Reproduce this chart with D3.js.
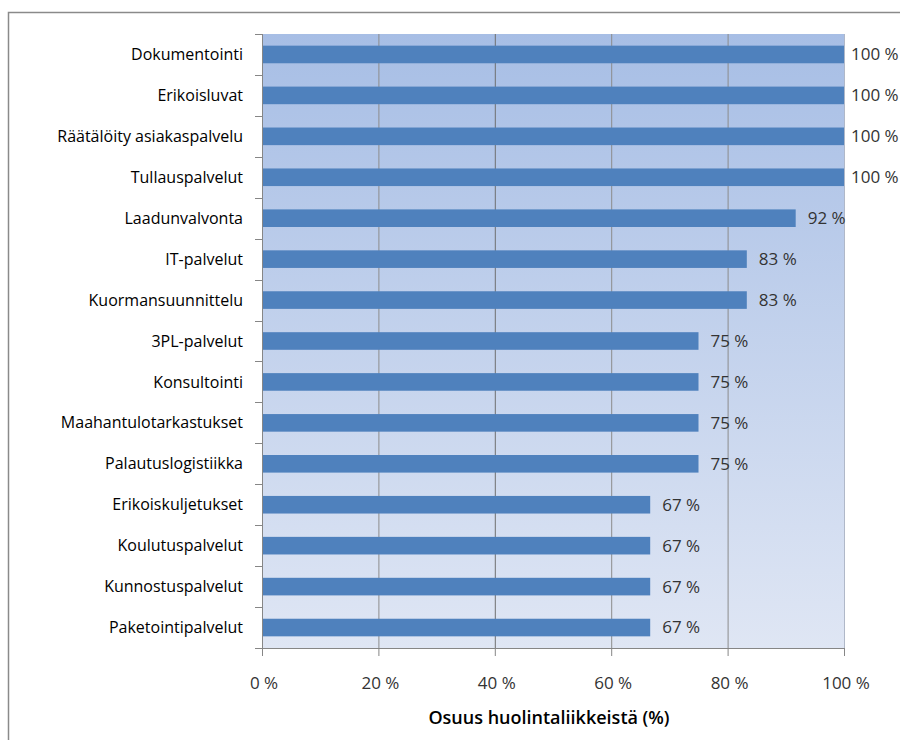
<!DOCTYPE html>
<html><head><meta charset="utf-8">
<script src="https://cdn.jsdelivr.net/npm/d3@7"></script>
<style>body{margin:0;background:#fff}svg{display:block}</style>
</head><body>
<script>
const categories = ["Dokumentointi","Erikoisluvat","Räätälöity asiakaspalvelu","Tullauspalvelut","Laadunvalvonta","IT-palvelut","Kuormansuunnittelu","3PL-palvelut","Konsultointi","Maahantulotarkastukset","Palautuslogistiikka","Erikoiskuljetukset","Koulutuspalvelut","Kunnostuspalvelut","Paketointipalvelut"];
const values = [100,100,100,100,91.7,83.3,83.3,75,75,75,75,66.7,66.7,66.7,66.7];
const xTicks = [0,20,40,60,80,100];
const axisTitle = "Osuus huolintaliikkeistä (%)";

const W=900,H=740;
const m={left:262,right:56,top:34,bottom:92};
const svg=d3.select("body").append("svg").attr("width",W).attr("height",H);
const font="'Open Sans', sans-serif";

// outer frame
svg.append("rect").attr("x",8.5).attr("y",12.5).attr("width",W+10).attr("height",H+10)
  .attr("fill","#fff").attr("stroke","#8a8a8a").attr("stroke-width",1.5);

const x=d3.scaleLinear().domain([0,100]).range([m.left,W-m.right]);
const y=d3.scaleBand().domain(categories).range([m.top,H-m.bottom]).paddingInner(0.57).paddingOuter(0.285);
const yb=d3.scaleBand().domain(categories).range([m.top,H-m.bottom]);

const defs=svg.append("defs");
const g=defs.append("linearGradient").attr("id","bg").attr("x1",0).attr("y1",0).attr("x2",0).attr("y2",1);
g.append("stop").attr("offset","0%").attr("stop-color","#a7bee5");
g.append("stop").attr("offset","100%").attr("stop-color","#dfe6f4");

svg.append("rect").attr("x",x(0)).attr("y",m.top).attr("width",x(100)-x(0)).attr("height",H-m.bottom-m.top).attr("fill","url(#bg)");

// gridlines
svg.append("g").selectAll("line").data(xTicks.filter(d=>d>0&&d<100)).join("line")
  .attr("x1",d=>x(d)+0.5).attr("x2",d=>x(d)+0.5).attr("y1",m.top).attr("y2",H-m.bottom)
  .attr("stroke",d=>d===40?"#6e6e6e":"#8c8c8c").attr("stroke-width",1);
// right edge
svg.append("line").attr("x1",x(100)+0.5).attr("x2",x(100)+0.5).attr("y1",m.top).attr("y2",H-m.bottom).attr("stroke","#b0b8c8");

// bars
svg.append("g").selectAll("rect").data(categories).join("rect")
  .attr("x",x(0)).attr("y",d=>y(d)).attr("height",y.bandwidth())
  .attr("width",(d,i)=>x(values[i])-x(0)).attr("fill","#4f81bd");

// y axis
const ya=svg.append("g");
ya.append("line").attr("x1",x(0)+0.5).attr("x2",x(0)+0.5).attr("y1",m.top).attr("y2",H-m.bottom+8).attr("stroke","#868686");
const bounds=categories.map(c=>yb(c)).concat([H-m.bottom]);
ya.selectAll(".t").data(bounds).join("line").attr("class","t")
  .attr("x1",x(0)-7).attr("x2",x(0)).attr("y1",d=>Math.round(d)+0.5).attr("y2",d=>Math.round(d)+0.5).attr("stroke","#868686");
ya.selectAll("text").data(categories).join("text")
  .attr("x",x(0)-19).attr("y",d=>y(d)+y.bandwidth()/2).attr("dy","0.35em")
  .attr("text-anchor","end").attr("font-family",font).attr("font-size",16).attr("font-weight",500).attr("fill","#000").text(d=>d);

// x axis
const xa=svg.append("g");
xa.append("line").attr("x1",x(0)-7).attr("x2",x(100)).attr("y1",H-m.bottom+0.5).attr("y2",H-m.bottom+0.5).attr("stroke","#868686");
xa.selectAll(".t").data(xTicks).join("line").attr("class","t")
  .attr("x1",d=>x(d)+0.5).attr("x2",d=>x(d)+0.5).attr("y1",H-m.bottom).attr("y2",H-m.bottom+8).attr("stroke","#868686");
xa.selectAll("text").data(xTicks).join("text")
  .attr("x",d=>x(d)+2).attr("y",H-m.bottom+35).attr("dy","0.35em").attr("text-anchor","middle")
  .attr("font-family",font).attr("font-size",17).attr("fill","#333").text(d=>d+" %");

// data labels
svg.append("g").selectAll("text").data(categories).join("text")
  .attr("x",(d,i)=>x(values[i])+(values[i]>=100?7:12)).attr("y",d=>y(d)+y.bandwidth()/2).attr("dy","0.35em")
  .attr("font-family",font).attr("font-size",17).attr("fill","#333")
  .text((d,i)=>Math.round(values[i])+" %");

svg.append("text").attr("x",(x(0)+x(100))/2-4).attr("y",718).attr("dy","0.35em").attr("text-anchor","middle")
  .attr("font-family",font).attr("font-size",18).attr("font-weight",600).attr("fill","#000").text(axisTitle);
</script>
</body></html>
